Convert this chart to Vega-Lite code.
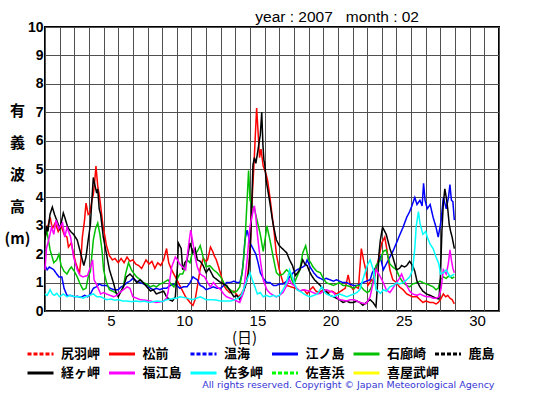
{
"$schema":"https://vega.github.io/schema/vega-lite/v6.json",
"width":454,"height":284,
"autosize":{"type":"none"},
"padding":{"left":45,"top":27,"right":56,"bottom":84},
"background":"white",
"title":{"text":"year : 2007\u00a0\u00a0\u00a0month : 02","anchor":"end","frame":"group","dx":-80,"dy":10,"offset":5,"fontSize":15.5,"fontWeight":"normal","font":"Liberation Sans","color":"black"},
"config":{
"view":{"stroke":"black","strokeWidth":2},
"axis":{"grid":true,"gridColor":"#505050","gridOpacity":1,"gridWidth":1,"domain":false,"ticks":false,"labelColor":"black","titleColor":"black"},
"legend":{"orient":"none","legendX":-12.5,"legendY":319,"direction":"horizontal","columns":6,"symbolType":"M-2,0H2","symbolSize":169,"symbolStrokeWidth":3,"symbolFillColor":"transparent","labelFont":"Noto Sans CJK JP","labelFontSize":13,"labelFontWeight":"bold","labelColor":"black","labelOffset":12.5,"labelLimit":0,"columnPadding":-10.5,"rowPadding":4,"gridAlign":"all","titleOrient":"bottom","titleAnchor":"end","titleColor":"#3535d5","titleFont":"DejaVu Sans","titleFontSize":9.5,"titleFontWeight":"normal","titlePadding":0,"titleLimit":0}
},
"data":{"values":[
{"s":"松前","t":0,"v":2.6},{"s":"松前","t":0.2,"v":3.0},{"s":"松前","t":0.35,"v":3.3},{"s":"松前","t":0.5,"v":2.9},{"s":"松前","t":0.7,"v":3.1},{"s":"松前","t":0.9,"v":2.8},{"s":"松前","t":1.1,"v":3.0},{"s":"松前","t":1.3,"v":2.7},{"s":"松前","t":1.5,"v":2.6},{"s":"松前","t":1.6,"v":2.25},{"s":"松前","t":1.8,"v":2.4},{"s":"松前","t":1.95,"v":2.0},{"s":"松前","t":2.1,"v":1.7},{"s":"松前","t":2.2,"v":1.55},{"s":"松前","t":2.35,"v":1.3},{"s":"松前","t":2.45,"v":1.8},{"s":"松前","t":2.55,"v":2.6},{"s":"松前","t":2.7,"v":3.2},{"s":"松前","t":2.8,"v":3.8},{"s":"松前","t":2.95,"v":3.4},{"s":"松前","t":3.07,"v":3.45},{"s":"松前","t":3.2,"v":3.9},{"s":"松前","t":3.3,"v":4.1},{"s":"松前","t":3.4,"v":4.6},{"s":"松前","t":3.48,"v":5.1},{"s":"松前","t":3.6,"v":4.4},{"s":"松前","t":3.7,"v":4.1},{"s":"松前","t":3.8,"v":3.7},{"s":"松前","t":3.96,"v":3.0},{"s":"松前","t":4.1,"v":2.6},{"s":"松前","t":4.2,"v":2.3},{"s":"松前","t":4.4,"v":1.95},{"s":"松前","t":4.6,"v":1.8},{"s":"松前","t":4.78,"v":1.85},{"s":"松前","t":5.0,"v":1.7},{"s":"松前","t":5.2,"v":1.85},{"s":"松前","t":5.4,"v":1.7},{"s":"松前","t":5.6,"v":1.9},{"s":"松前","t":5.8,"v":1.75},{"s":"松前","t":6.0,"v":1.8},{"s":"松前","t":6.2,"v":1.65},{"s":"松前","t":6.4,"v":1.6},{"s":"松前","t":6.6,"v":1.5},{"s":"松前","t":6.9,"v":1.8},{"s":"松前","t":7.1,"v":1.65},{"s":"松前","t":7.3,"v":1.75},{"s":"松前","t":7.5,"v":1.5},{"s":"松前","t":7.7,"v":1.7},{"s":"松前","t":7.9,"v":1.6},{"s":"松前","t":8.1,"v":1.8},{"s":"松前","t":8.3,"v":2.2},{"s":"松前","t":8.45,"v":1.7},{"s":"松前","t":8.6,"v":1.5},{"s":"松前","t":8.9,"v":1.2},{"s":"松前","t":9.2,"v":0.9},{"s":"松前","t":9.4,"v":0.7},{"s":"松前","t":9.6,"v":0.5},{"s":"松前","t":9.9,"v":0.3},{"s":"松前","t":10.1,"v":0.2},{"s":"松前","t":10.25,"v":0.4},{"s":"松前","t":10.4,"v":0.85},{"s":"松前","t":10.6,"v":1.5},{"s":"松前","t":10.8,"v":1.85},{"s":"松前","t":11.0,"v":1.75},{"s":"松前","t":11.1,"v":1.8},{"s":"松前","t":11.3,"v":2.25},{"s":"松前","t":11.45,"v":2.1},{"s":"松前","t":11.55,"v":1.95},{"s":"松前","t":11.7,"v":1.8},{"s":"松前","t":12.0,"v":1.3},{"s":"松前","t":12.2,"v":0.9},{"s":"松前","t":12.4,"v":0.75},{"s":"松前","t":12.6,"v":0.65},{"s":"松前","t":12.9,"v":0.7},{"s":"松前","t":13.2,"v":0.5},{"s":"松前","t":13.4,"v":0.6},{"s":"松前","t":13.6,"v":0.8},{"s":"松前","t":13.8,"v":1.1},{"s":"松前","t":14.0,"v":2.0},{"s":"松前","t":14.15,"v":4.0},{"s":"松前","t":14.3,"v":5.5},{"s":"松前","t":14.45,"v":7.15},{"s":"松前","t":14.55,"v":6.3},{"s":"松前","t":14.65,"v":5.4},{"s":"松前","t":14.75,"v":5.7},{"s":"松前","t":14.9,"v":5.1},{"s":"松前","t":15.05,"v":4.9},{"s":"松前","t":15.2,"v":4.6},{"s":"松前","t":15.36,"v":4.0},{"s":"松前","t":15.5,"v":3.4},{"s":"松前","t":15.6,"v":3.0},{"s":"松前","t":15.8,"v":2.0},{"s":"松前","t":16.0,"v":1.45},{"s":"松前","t":16.25,"v":1.0},{"s":"松前","t":16.5,"v":0.9},{"s":"松前","t":16.8,"v":0.85},{"s":"松前","t":17.1,"v":0.8},{"s":"松前","t":17.4,"v":0.7},{"s":"松前","t":17.7,"v":0.75},{"s":"松前","t":17.9,"v":0.6},{"s":"松前","t":18.1,"v":0.75},{"s":"松前","t":18.3,"v":0.85},{"s":"松前","t":18.5,"v":0.7},{"s":"松前","t":18.7,"v":0.65},{"s":"松前","t":19.0,"v":0.75},{"s":"松前","t":19.3,"v":0.65},{"s":"松前","t":19.6,"v":0.7},{"s":"松前","t":19.9,"v":0.6},{"s":"松前","t":20.2,"v":0.7},{"s":"松前","t":20.5,"v":0.8},{"s":"松前","t":20.7,"v":1.27},{"s":"松前","t":20.85,"v":0.9},{"s":"松前","t":21.05,"v":0.75},{"s":"松前","t":21.2,"v":0.85},{"s":"松前","t":21.4,"v":0.8},{"s":"松前","t":21.6,"v":2.2},{"s":"松前","t":21.75,"v":1.8},{"s":"松前","t":21.9,"v":1.45},{"s":"松前","t":22.05,"v":0.9},{"s":"松前","t":22.3,"v":1.1},{"s":"松前","t":22.45,"v":1.0},{"s":"松前","t":22.6,"v":1.45},{"s":"松前","t":22.8,"v":1.9},{"s":"松前","t":23.0,"v":2.4},{"s":"松前","t":23.2,"v":2.6},{"s":"松前","t":23.35,"v":2.15},{"s":"松前","t":23.55,"v":1.45},{"s":"松前","t":23.75,"v":1.1},{"s":"松前","t":24.0,"v":1.0},{"s":"松前","t":24.2,"v":0.85},{"s":"松前","t":24.45,"v":0.75},{"s":"松前","t":24.7,"v":0.6},{"s":"松前","t":24.9,"v":0.55},{"s":"松前","t":25.1,"v":0.5},{"s":"松前","t":25.4,"v":0.5},{"s":"松前","t":25.6,"v":0.4},{"s":"松前","t":25.8,"v":0.3},{"s":"松前","t":26.0,"v":0.35},{"s":"松前","t":26.3,"v":0.3},{"s":"松前","t":26.5,"v":0.3},{"s":"松前","t":26.7,"v":0.25},{"s":"松前","t":26.85,"v":0.3},{"s":"松前","t":27.0,"v":0.4},{"s":"松前","t":27.2,"v":0.6},{"s":"松前","t":27.35,"v":0.5},{"s":"松前","t":27.5,"v":0.55},{"s":"松前","t":27.65,"v":0.45},{"s":"松前","t":27.8,"v":0.4},{"s":"松前","t":27.95,"v":0.25},
{"s":"江ノ島","t":0,"v":1.6},{"s":"江ノ島","t":0.15,"v":1.45},{"s":"江ノ島","t":0.3,"v":1.55},{"s":"江ノ島","t":0.6,"v":1.45},{"s":"江ノ島","t":0.8,"v":1.3},{"s":"江ノ島","t":0.95,"v":1.2},{"s":"江ノ島","t":1.15,"v":1.2},{"s":"江ノ島","t":1.3,"v":0.8},{"s":"江ノ島","t":1.5,"v":0.55},{"s":"江ノ島","t":1.75,"v":0.55},{"s":"江ノ島","t":2.0,"v":0.5},{"s":"江ノ島","t":2.2,"v":0.52},{"s":"江ノ島","t":2.45,"v":0.48},{"s":"江ノ島","t":2.7,"v":0.55},{"s":"江ノ島","t":2.9,"v":0.5},{"s":"江ノ島","t":3.1,"v":0.6},{"s":"江ノ島","t":3.3,"v":0.8},{"s":"江ノ島","t":3.5,"v":0.85},{"s":"江ノ島","t":3.7,"v":0.95},{"s":"江ノ島","t":3.9,"v":0.9},{"s":"江ノ島","t":4.2,"v":0.9},{"s":"江ノ島","t":4.45,"v":0.8},{"s":"江ノ島","t":4.7,"v":0.75},{"s":"江ノ島","t":5.0,"v":0.75},{"s":"江ノ島","t":5.2,"v":0.85},{"s":"江ノ島","t":5.4,"v":0.9},{"s":"江ノ島","t":5.6,"v":1.0},{"s":"江ノ島","t":5.8,"v":1.05},{"s":"江ノ島","t":6.0,"v":1.15},{"s":"江ノ島","t":6.25,"v":1.05},{"s":"江ノ島","t":6.5,"v":1.0},{"s":"江ノ島","t":6.75,"v":0.95},{"s":"江ノ島","t":7.0,"v":0.9},{"s":"江ノ島","t":7.2,"v":0.8},{"s":"江ノ島","t":7.4,"v":0.75},{"s":"江ノ島","t":7.6,"v":0.8},{"s":"江ノ島","t":7.85,"v":0.75},{"s":"江ノ島","t":8.05,"v":0.8},{"s":"江ノ島","t":8.3,"v":0.8},{"s":"江ノ島","t":8.55,"v":0.9},{"s":"江ノ島","t":8.8,"v":0.95},{"s":"江ノ島","t":9.0,"v":0.9},{"s":"江ノ島","t":9.2,"v":0.8},{"s":"江ノ島","t":9.45,"v":0.85},{"s":"江ノ島","t":9.7,"v":0.85},{"s":"江ノ島","t":9.9,"v":1.0},{"s":"江ノ島","t":10.1,"v":1.2},{"s":"江ノ島","t":10.25,"v":1.15},{"s":"江ノ島","t":10.4,"v":1.1},{"s":"江ノ島","t":10.6,"v":0.9},{"s":"江ノ島","t":10.8,"v":0.85},{"s":"江ノ島","t":11.0,"v":0.75},{"s":"江ノ島","t":11.25,"v":0.8},{"s":"江ノ島","t":11.5,"v":0.85},{"s":"江ノ島","t":11.75,"v":0.8},{"s":"江ノ島","t":12.0,"v":0.8},{"s":"江ノ島","t":12.2,"v":0.9},{"s":"江ノ島","t":12.4,"v":1.0},{"s":"江ノ島","t":12.65,"v":1.0},{"s":"江ノ島","t":12.9,"v":1.05},{"s":"江ノ島","t":13.1,"v":1.0},{"s":"江ノ島","t":13.3,"v":1.0},{"s":"江ノ島","t":13.45,"v":1.3},{"s":"江ノ島","t":13.55,"v":1.8},{"s":"江ノ島","t":13.65,"v":2.5},{"s":"江ノ島","t":13.8,"v":2.85},{"s":"江ノ島","t":14.0,"v":2.4},{"s":"江ノ島","t":14.2,"v":2.2},{"s":"江ノ島","t":14.4,"v":2.0},{"s":"江ノ島","t":14.55,"v":1.7},{"s":"江ノ島","t":14.7,"v":1.35},{"s":"江ノ島","t":14.9,"v":1.15},{"s":"江ノ島","t":15.15,"v":1.0},{"s":"江ノ島","t":15.36,"v":1.0},{"s":"江ノ島","t":15.6,"v":0.9},{"s":"江ノ島","t":15.8,"v":0.9},{"s":"江ノ島","t":16.0,"v":0.95},{"s":"江ノ島","t":16.25,"v":0.95},{"s":"江ノ島","t":16.5,"v":1.05},{"s":"江ノ島","t":16.7,"v":1.2},{"s":"江ノ島","t":16.95,"v":1.35},{"s":"江ノ島","t":17.2,"v":1.45},{"s":"江ノ島","t":17.4,"v":1.5},{"s":"江ノ島","t":17.6,"v":1.55},{"s":"江ノ島","t":17.75,"v":1.6},{"s":"江ノ島","t":17.9,"v":1.8},{"s":"江ノ島","t":18.1,"v":1.55},{"s":"江ノ島","t":18.35,"v":1.35},{"s":"江ノ島","t":18.6,"v":1.2},{"s":"江ノ島","t":18.8,"v":1.15},{"s":"江ノ島","t":19.0,"v":1.1},{"s":"江ノ島","t":19.2,"v":1.15},{"s":"江ノ島","t":19.45,"v":1.1},{"s":"江ノ島","t":19.7,"v":1.05},{"s":"江ノ島","t":19.9,"v":1.1},{"s":"江ノ島","t":20.1,"v":1.05},{"s":"江ノ島","t":20.35,"v":1.0},{"s":"江ノ島","t":20.6,"v":1.0},{"s":"江ノ島","t":20.8,"v":0.95},{"s":"江ノ島","t":21.05,"v":0.9},{"s":"江ノ島","t":21.3,"v":0.9},{"s":"江ノ島","t":21.5,"v":0.95},{"s":"江ノ島","t":21.7,"v":1.0},{"s":"江ノ島","t":21.95,"v":1.05},{"s":"江ノ島","t":22.2,"v":1.1},{"s":"江ノ島","t":22.35,"v":1.35},{"s":"江ノ島","t":22.6,"v":1.55},{"s":"江ノ島","t":22.75,"v":1.7},{"s":"江ノ島","t":22.9,"v":1.9},{"s":"江ノ島","t":23.1,"v":1.45},{"s":"江ノ島","t":23.3,"v":1.65},{"s":"江ノ島","t":23.55,"v":1.9},{"s":"江ノ島","t":23.8,"v":2.15},{"s":"江ノ島","t":24.0,"v":2.4},{"s":"江ノ島","t":24.2,"v":2.65},{"s":"江ノ島","t":24.45,"v":2.95},{"s":"江ノ島","t":24.7,"v":3.3},{"s":"江ノ島","t":24.9,"v":3.5},{"s":"江ノ島","t":25.05,"v":3.7},{"s":"江ノ島","t":25.25,"v":4.0},{"s":"江ノ島","t":25.4,"v":3.75},{"s":"江ノ島","t":25.6,"v":3.9},{"s":"江ノ島","t":25.75,"v":3.7},{"s":"江ノ島","t":25.85,"v":4.5},{"s":"江ノ島","t":25.95,"v":3.9},{"s":"江ノ島","t":26.1,"v":3.6},{"s":"江ノ島","t":26.3,"v":3.75},{"s":"江ノ島","t":26.5,"v":3.3},{"s":"江ノ島","t":26.7,"v":2.95},{"s":"江ノ島","t":26.85,"v":2.6},{"s":"江ノ島","t":27.05,"v":3.2},{"s":"江ノ島","t":27.2,"v":4.0},{"s":"江ノ島","t":27.4,"v":3.6},{"s":"江ノ島","t":27.55,"v":4.0},{"s":"江ノ島","t":27.65,"v":4.45},{"s":"江ノ島","t":27.75,"v":3.9},{"s":"江ノ島","t":27.85,"v":3.85},{"s":"江ノ島","t":27.95,"v":3.2},
{"s":"石廊崎","t":0,"v":2.5},{"s":"石廊崎","t":0.1,"v":2.9},{"s":"石廊崎","t":0.35,"v":2.15},{"s":"石廊崎","t":0.6,"v":1.7},{"s":"石廊崎","t":0.8,"v":1.8},{"s":"石廊崎","t":0.95,"v":2.0},{"s":"石廊崎","t":1.1,"v":1.6},{"s":"石廊崎","t":1.3,"v":1.4},{"s":"石廊崎","t":1.5,"v":1.3},{"s":"石廊崎","t":1.65,"v":1.45},{"s":"石廊崎","t":1.8,"v":1.55},{"s":"石廊崎","t":2.0,"v":1.4},{"s":"石廊崎","t":2.2,"v":1.2},{"s":"石廊崎","t":2.4,"v":0.95},{"s":"石廊崎","t":2.6,"v":0.75},{"s":"石廊崎","t":2.8,"v":0.8},{"s":"石廊崎","t":2.95,"v":1.2},{"s":"石廊崎","t":3.1,"v":1.4},{"s":"石廊崎","t":3.3,"v":2.5},{"s":"石廊崎","t":3.45,"v":2.9},{"s":"石廊崎","t":3.6,"v":3.1},{"s":"石廊崎","t":3.75,"v":2.7},{"s":"石廊崎","t":3.9,"v":2.1},{"s":"石廊崎","t":4.0,"v":1.45},{"s":"石廊崎","t":4.2,"v":1.0},{"s":"石廊崎","t":4.4,"v":0.75},{"s":"石廊崎","t":4.8,"v":0.65},{"s":"石廊崎","t":5.0,"v":0.6},{"s":"石廊崎","t":5.2,"v":0.7},{"s":"石廊崎","t":5.35,"v":0.85},{"s":"石廊崎","t":5.5,"v":1.3},{"s":"石廊崎","t":5.7,"v":1.7},{"s":"石廊崎","t":5.9,"v":1.45},{"s":"石廊崎","t":6.1,"v":1.3},{"s":"石廊崎","t":6.26,"v":1.2},{"s":"石廊崎","t":6.5,"v":1.1},{"s":"石廊崎","t":6.7,"v":1.0},{"s":"石廊崎","t":6.95,"v":0.95},{"s":"石廊崎","t":7.2,"v":0.85},{"s":"石廊崎","t":7.4,"v":0.9},{"s":"石廊崎","t":7.6,"v":0.85},{"s":"石廊崎","t":7.85,"v":0.95},{"s":"石廊崎","t":8.1,"v":1.0},{"s":"石廊崎","t":8.4,"v":1.1},{"s":"石廊崎","t":8.6,"v":0.95},{"s":"石廊崎","t":8.8,"v":0.85},{"s":"石廊崎","t":9.0,"v":1.1},{"s":"石廊崎","t":9.2,"v":1.3},{"s":"石廊崎","t":9.4,"v":1.3},{"s":"石廊崎","t":9.55,"v":1.5},{"s":"石廊崎","t":9.7,"v":1.8},{"s":"石廊崎","t":9.9,"v":1.7},{"s":"石廊崎","t":10.1,"v":2.15},{"s":"石廊崎","t":10.25,"v":2.0},{"s":"石廊崎","t":10.4,"v":2.1},{"s":"石廊崎","t":10.6,"v":2.3},{"s":"石廊崎","t":10.8,"v":1.9},{"s":"石廊崎","t":11.0,"v":1.55},{"s":"石廊崎","t":11.25,"v":1.6},{"s":"石廊崎","t":11.5,"v":1.45},{"s":"石廊崎","t":11.75,"v":1.35},{"s":"石廊崎","t":12.0,"v":1.2},{"s":"石廊崎","t":12.2,"v":1.0},{"s":"石廊崎","t":12.4,"v":0.85},{"s":"石廊崎","t":12.65,"v":0.75},{"s":"石廊崎","t":12.9,"v":0.65},{"s":"石廊崎","t":13.1,"v":0.7},{"s":"石廊崎","t":13.3,"v":0.85},{"s":"石廊崎","t":13.5,"v":1.5},{"s":"石廊崎","t":13.65,"v":2.4},{"s":"石廊崎","t":13.8,"v":3.9},{"s":"石廊崎","t":13.9,"v":4.95},{"s":"石廊崎","t":14.0,"v":3.9},{"s":"石廊崎","t":14.15,"v":3.7},{"s":"石廊崎","t":14.3,"v":3.6},{"s":"石廊崎","t":14.5,"v":3.15},{"s":"石廊崎","t":14.7,"v":2.7},{"s":"石廊崎","t":14.9,"v":2.1},{"s":"石廊崎","t":15.05,"v":2.6},{"s":"石廊崎","t":15.15,"v":3.0},{"s":"石廊崎","t":15.36,"v":2.5},{"s":"石廊崎","t":15.6,"v":1.85},{"s":"石廊崎","t":15.8,"v":1.35},{"s":"石廊崎","t":16.0,"v":1.25},{"s":"石廊崎","t":16.25,"v":1.3},{"s":"石廊崎","t":16.5,"v":1.45},{"s":"石廊崎","t":16.7,"v":1.35},{"s":"石廊崎","t":16.85,"v":1.1},{"s":"石廊崎","t":17.0,"v":0.95},{"s":"石廊崎","t":17.2,"v":1.2},{"s":"石廊崎","t":17.4,"v":1.45},{"s":"石廊崎","t":17.6,"v":2.05},{"s":"石廊崎","t":17.8,"v":2.3},{"s":"石廊崎","t":18.0,"v":1.8},{"s":"石廊崎","t":18.15,"v":1.7},{"s":"石廊崎","t":18.3,"v":1.55},{"s":"石廊崎","t":18.55,"v":1.4},{"s":"石廊崎","t":18.8,"v":1.35},{"s":"石廊崎","t":19.0,"v":1.15},{"s":"石廊崎","t":19.2,"v":1.0},{"s":"石廊崎","t":19.45,"v":0.95},{"s":"石廊崎","t":19.7,"v":0.9},{"s":"石廊崎","t":19.9,"v":0.95},{"s":"石廊崎","t":20.1,"v":1.0},{"s":"石廊崎","t":20.35,"v":0.9},{"s":"石廊崎","t":20.6,"v":0.9},{"s":"石廊崎","t":20.85,"v":0.85},{"s":"石廊崎","t":21.1,"v":0.8},{"s":"石廊崎","t":21.3,"v":0.9},{"s":"石廊崎","t":21.5,"v":0.9},{"s":"石廊崎","t":21.75,"v":0.75},{"s":"石廊崎","t":22.0,"v":0.65},{"s":"石廊崎","t":22.15,"v":0.7},{"s":"石廊崎","t":22.3,"v":0.85},{"s":"石廊崎","t":22.45,"v":1.2},{"s":"石廊崎","t":22.6,"v":1.6},{"s":"石廊崎","t":22.75,"v":1.7},{"s":"石廊崎","t":22.9,"v":1.8},{"s":"石廊崎","t":23.1,"v":2.1},{"s":"石廊崎","t":23.3,"v":2.15},{"s":"石廊崎","t":23.55,"v":1.65},{"s":"石廊崎","t":23.75,"v":1.55},{"s":"石廊崎","t":24.0,"v":1.45},{"s":"石廊崎","t":24.2,"v":1.2},{"s":"石廊崎","t":24.45,"v":1.0},{"s":"石廊崎","t":24.7,"v":0.9},{"s":"石廊崎","t":24.9,"v":0.85},{"s":"石廊崎","t":25.1,"v":0.95},{"s":"石廊崎","t":25.4,"v":1.0},{"s":"石廊崎","t":25.6,"v":1.05},{"s":"石廊崎","t":25.8,"v":1.0},{"s":"石廊崎","t":26.05,"v":0.95},{"s":"石廊崎","t":26.3,"v":0.9},{"s":"石廊崎","t":26.5,"v":0.85},{"s":"石廊崎","t":26.7,"v":0.75},{"s":"石廊崎","t":26.85,"v":0.8},{"s":"石廊崎","t":27.0,"v":1.1},{"s":"石廊崎","t":27.2,"v":1.2},{"s":"石廊崎","t":27.4,"v":1.15},{"s":"石廊崎","t":27.6,"v":1.25},{"s":"石廊崎","t":27.8,"v":1.15},{"s":"石廊崎","t":27.95,"v":1.2},
{"s":"経ヶ岬","t":0,"v":2.5},{"s":"経ヶ岬","t":0.1,"v":3.0},{"s":"経ヶ岬","t":0.2,"v":2.8},{"s":"経ヶ岬","t":0.34,"v":3.4},{"s":"経ヶ岬","t":0.5,"v":3.66},{"s":"経ヶ岬","t":0.65,"v":3.4},{"s":"経ヶ岬","t":0.8,"v":3.2},{"s":"経ヶ岬","t":1.0,"v":2.9},{"s":"経ヶ岬","t":1.1,"v":3.1},{"s":"経ヶ岬","t":1.25,"v":3.45},{"s":"経ヶ岬","t":1.35,"v":3.3},{"s":"経ヶ岬","t":1.55,"v":2.95},{"s":"経ヶ岬","t":1.75,"v":2.8},{"s":"経ヶ岬","t":1.95,"v":2.7},{"s":"経ヶ岬","t":2.2,"v":2.5},{"s":"経ヶ岬","t":2.45,"v":2.0},{"s":"経ヶ岬","t":2.65,"v":1.6},{"s":"経ヶ岬","t":2.8,"v":1.9},{"s":"経ヶ岬","t":2.95,"v":2.5},{"s":"経ヶ岬","t":3.1,"v":3.05},{"s":"経ヶ岬","t":3.2,"v":3.9},{"s":"経ヶ岬","t":3.3,"v":4.7},{"s":"経ヶ岬","t":3.42,"v":4.4},{"s":"経ヶ岬","t":3.53,"v":4.15},{"s":"経ヶ岬","t":3.6,"v":4.3},{"s":"経ヶ岬","t":3.7,"v":3.6},{"s":"経ヶ岬","t":3.8,"v":3.4},{"s":"経ヶ岬","t":3.98,"v":2.6},{"s":"経ヶ岬","t":4.2,"v":2.0},{"s":"経ヶ岬","t":4.4,"v":1.45},{"s":"経ヶ岬","t":4.67,"v":1.0},{"s":"経ヶ岬","t":4.85,"v":0.65},{"s":"経ヶ岬","t":5.0,"v":0.5},{"s":"経ヶ岬","t":5.2,"v":0.7},{"s":"経ヶ岬","t":5.35,"v":0.85},{"s":"経ヶ岬","t":5.57,"v":1.2},{"s":"経ヶ岬","t":5.8,"v":1.3},{"s":"経ヶ岬","t":6.0,"v":1.2},{"s":"経ヶ岬","t":6.26,"v":1.0},{"s":"経ヶ岬","t":6.5,"v":1.1},{"s":"経ヶ岬","t":6.7,"v":1.0},{"s":"経ヶ岬","t":6.95,"v":0.85},{"s":"経ヶ岬","t":7.2,"v":0.7},{"s":"経ヶ岬","t":7.4,"v":0.75},{"s":"経ヶ岬","t":7.6,"v":0.6},{"s":"経ヶ岬","t":7.85,"v":0.65},{"s":"経ヶ岬","t":8.1,"v":0.7},{"s":"経ヶ岬","t":8.3,"v":0.5},{"s":"経ヶ岬","t":8.5,"v":0.4},{"s":"経ヶ岬","t":8.7,"v":0.35},{"s":"経ヶ岬","t":8.9,"v":0.5},{"s":"経ヶ岬","t":9.05,"v":1.6},{"s":"経ヶ岬","t":9.1,"v":2.4},{"s":"経ヶ岬","t":9.3,"v":2.2},{"s":"経ヶ岬","t":9.4,"v":1.45},{"s":"経ヶ岬","t":9.55,"v":1.7},{"s":"経ヶ岬","t":9.7,"v":1.8},{"s":"経ヶ岬","t":9.9,"v":2.4},{"s":"経ヶ岬","t":10.1,"v":2.05},{"s":"経ヶ岬","t":10.25,"v":2.2},{"s":"経ヶ岬","t":10.4,"v":1.8},{"s":"経ヶ岬","t":10.6,"v":1.75},{"s":"経ヶ岬","t":10.8,"v":1.6},{"s":"経ヶ岬","t":11.0,"v":1.35},{"s":"経ヶ岬","t":11.2,"v":1.5},{"s":"経ヶ岬","t":11.5,"v":1.2},{"s":"経ヶ岬","t":11.75,"v":1.1},{"s":"経ヶ岬","t":12.0,"v":1.0},{"s":"経ヶ岬","t":12.2,"v":0.95},{"s":"経ヶ岬","t":12.4,"v":0.9},{"s":"経ヶ岬","t":12.65,"v":0.7},{"s":"経ヶ岬","t":12.9,"v":0.5},{"s":"経ヶ岬","t":13.1,"v":0.55},{"s":"経ヶ岬","t":13.3,"v":0.4},{"s":"経ヶ岬","t":13.5,"v":0.6},{"s":"経ヶ岬","t":13.7,"v":0.9},{"s":"経ヶ岬","t":13.9,"v":1.35},{"s":"経ヶ岬","t":14.05,"v":2.6},{"s":"経ヶ岬","t":14.2,"v":5.15},{"s":"経ヶ岬","t":14.3,"v":5.4},{"s":"経ヶ岬","t":14.4,"v":5.2},{"s":"経ヶ岬","t":14.55,"v":5.7},{"s":"経ヶ岬","t":14.7,"v":6.2},{"s":"経ヶ岬","t":14.8,"v":7.0},{"s":"経ヶ岬","t":14.88,"v":5.85},{"s":"経ヶ岬","t":14.95,"v":5.3},{"s":"経ヶ岬","t":15.0,"v":5.2},{"s":"経ヶ岬","t":15.1,"v":4.6},{"s":"経ヶ岬","t":15.36,"v":3.8},{"s":"経ヶ岬","t":15.5,"v":3.3},{"s":"経ヶ岬","t":15.6,"v":3.0},{"s":"経ヶ岬","t":15.8,"v":2.5},{"s":"経ヶ岬","t":16.0,"v":2.3},{"s":"経ヶ岬","t":16.2,"v":2.2},{"s":"経ヶ岬","t":16.5,"v":2.05},{"s":"経ヶ岬","t":16.7,"v":1.8},{"s":"経ヶ岬","t":16.9,"v":1.6},{"s":"経ヶ岬","t":17.1,"v":1.25},{"s":"経ヶ岬","t":17.25,"v":1.35},{"s":"経ヶ岬","t":17.4,"v":1.45},{"s":"経ヶ岬","t":17.6,"v":1.8},{"s":"経ヶ岬","t":17.75,"v":1.65},{"s":"経ヶ岬","t":17.9,"v":1.6},{"s":"経ヶ岬","t":18.05,"v":1.4},{"s":"経ヶ岬","t":18.2,"v":1.25},{"s":"経ヶ岬","t":18.4,"v":1.1},{"s":"経ヶ岬","t":18.6,"v":1.0},{"s":"経ヶ岬","t":18.8,"v":0.9},{"s":"経ヶ岬","t":19.0,"v":0.75},{"s":"経ヶ岬","t":19.2,"v":0.7},{"s":"経ヶ岬","t":19.45,"v":0.55},{"s":"経ヶ岬","t":19.7,"v":0.5},{"s":"経ヶ岬","t":19.9,"v":0.45},{"s":"経ヶ岬","t":20.1,"v":0.4},{"s":"経ヶ岬","t":20.35,"v":0.3},{"s":"経ヶ岬","t":20.6,"v":0.35},{"s":"経ヶ岬","t":20.8,"v":0.3},{"s":"経ヶ岬","t":21.05,"v":0.3},{"s":"経ヶ岬","t":21.3,"v":0.35},{"s":"経ヶ岬","t":21.5,"v":0.3},{"s":"経ヶ岬","t":21.7,"v":0.2},{"s":"経ヶ岬","t":21.95,"v":0.3},{"s":"経ヶ岬","t":22.2,"v":0.4},{"s":"経ヶ岬","t":22.4,"v":0.3},{"s":"経ヶ岬","t":22.6,"v":0.15},{"s":"経ヶ岬","t":22.7,"v":0.9},{"s":"経ヶ岬","t":22.8,"v":2.0},{"s":"経ヶ岬","t":22.9,"v":2.5},{"s":"経ヶ岬","t":23.05,"v":2.95},{"s":"経ヶ岬","t":23.3,"v":2.7},{"s":"経ヶ岬","t":23.55,"v":2.2},{"s":"経ヶ岬","t":23.75,"v":1.9},{"s":"経ヶ岬","t":24.0,"v":1.45},{"s":"経ヶ岬","t":24.2,"v":1.5},{"s":"経ヶ岬","t":24.35,"v":1.6},{"s":"経ヶ岬","t":24.55,"v":1.55},{"s":"経ヶ岬","t":24.7,"v":1.6},{"s":"経ヶ岬","t":24.9,"v":1.75},{"s":"経ヶ岬","t":25.1,"v":1.6},{"s":"経ヶ岬","t":25.25,"v":1.4},{"s":"経ヶ岬","t":25.4,"v":1.05},{"s":"経ヶ岬","t":25.6,"v":0.85},{"s":"経ヶ岬","t":25.8,"v":0.7},{"s":"経ヶ岬","t":26.05,"v":0.6},{"s":"経ヶ岬","t":26.3,"v":0.55},{"s":"経ヶ岬","t":26.5,"v":0.5},{"s":"経ヶ岬","t":26.7,"v":0.45},{"s":"経ヶ岬","t":26.9,"v":0.42},{"s":"経ヶ岬","t":27.0,"v":1.2},{"s":"経ヶ岬","t":27.1,"v":2.8},{"s":"経ヶ岬","t":27.2,"v":3.8},{"s":"経ヶ岬","t":27.3,"v":4.3},{"s":"経ヶ岬","t":27.4,"v":4.0},{"s":"経ヶ岬","t":27.5,"v":3.6},{"s":"経ヶ岬","t":27.6,"v":3.05},{"s":"経ヶ岬","t":27.7,"v":2.8},{"s":"経ヶ岬","t":27.8,"v":2.6},{"s":"経ヶ岬","t":27.95,"v":2.2},
{"s":"福江島","t":0,"v":1.45},{"s":"福江島","t":0.1,"v":2.2},{"s":"福江島","t":0.25,"v":2.5},{"s":"福江島","t":0.45,"v":2.95},{"s":"福江島","t":0.6,"v":2.7},{"s":"福江島","t":0.75,"v":3.2},{"s":"福江島","t":0.95,"v":2.9},{"s":"福江島","t":1.2,"v":3.1},{"s":"福江島","t":1.35,"v":2.6},{"s":"福江島","t":1.5,"v":2.95},{"s":"福江島","t":1.75,"v":2.6},{"s":"福江島","t":1.95,"v":1.9},{"s":"福江島","t":2.2,"v":1.45},{"s":"福江島","t":2.4,"v":1.25},{"s":"福江島","t":2.6,"v":1.2},{"s":"福江島","t":2.9,"v":1.25},{"s":"福江島","t":3.1,"v":1.55},{"s":"福江島","t":3.25,"v":1.8},{"s":"福江島","t":3.35,"v":1.1},{"s":"福江島","t":3.55,"v":0.9},{"s":"福江島","t":3.8,"v":0.6},{"s":"福江島","t":4.0,"v":0.65},{"s":"福江島","t":4.2,"v":0.6},{"s":"福江島","t":4.45,"v":0.55},{"s":"福江島","t":4.7,"v":0.5},{"s":"福江島","t":4.9,"v":0.55},{"s":"福江島","t":5.1,"v":0.65},{"s":"福江島","t":5.35,"v":0.75},{"s":"福江島","t":5.6,"v":0.85},{"s":"福江島","t":5.8,"v":0.8},{"s":"福江島","t":6.0,"v":0.5},{"s":"福江島","t":6.25,"v":0.45},{"s":"福江島","t":6.5,"v":0.4},{"s":"福江島","t":6.85,"v":0.38},{"s":"福江島","t":7.2,"v":0.35},{"s":"福江島","t":7.6,"v":0.3},{"s":"福江島","t":7.85,"v":0.32},{"s":"福江島","t":8.1,"v":0.35},{"s":"福江島","t":8.3,"v":0.45},{"s":"福江島","t":8.4,"v":0.65},{"s":"福江島","t":8.55,"v":1.2},{"s":"福江島","t":8.65,"v":1.55},{"s":"福江島","t":8.9,"v":1.9},{"s":"福江島","t":9.05,"v":1.8},{"s":"福江島","t":9.2,"v":1.65},{"s":"福江島","t":9.4,"v":1.55},{"s":"福江島","t":9.6,"v":1.45},{"s":"福江島","t":9.8,"v":2.3},{"s":"福江島","t":9.95,"v":2.85},{"s":"福江島","t":10.1,"v":2.4},{"s":"福江島","t":10.25,"v":1.9},{"s":"福江島","t":10.4,"v":1.55},{"s":"福江島","t":10.6,"v":1.3},{"s":"福江島","t":10.9,"v":1.2},{"s":"福江島","t":11.1,"v":1.0},{"s":"福江島","t":11.3,"v":0.85},{"s":"福江島","t":11.5,"v":1.0},{"s":"福江島","t":11.75,"v":0.85},{"s":"福江島","t":12.0,"v":0.75},{"s":"福江島","t":12.2,"v":0.6},{"s":"福江島","t":12.4,"v":0.5},{"s":"福江島","t":12.65,"v":0.45},{"s":"福江島","t":12.9,"v":0.4},{"s":"福江島","t":13.1,"v":0.35},{"s":"福江島","t":13.3,"v":0.3},{"s":"福江島","t":13.55,"v":0.65},{"s":"福江島","t":13.8,"v":1.8},{"s":"福江島","t":14.0,"v":3.0},{"s":"福江島","t":14.2,"v":3.5},{"s":"福江島","t":14.3,"v":3.7},{"s":"福江島","t":14.4,"v":3.3},{"s":"福江島","t":14.5,"v":2.7},{"s":"福江島","t":14.7,"v":1.8},{"s":"福江島","t":14.9,"v":1.1},{"s":"福江島","t":15.15,"v":0.75},{"s":"福江島","t":15.36,"v":0.63},{"s":"福江島","t":15.6,"v":0.55},{"s":"福江島","t":15.8,"v":0.5},{"s":"福江島","t":16.0,"v":0.55},{"s":"福江島","t":16.25,"v":0.65},{"s":"福江島","t":16.45,"v":0.85},{"s":"福江島","t":16.7,"v":1.1},{"s":"福江島","t":16.85,"v":0.95},{"s":"福江島","t":17.0,"v":0.9},{"s":"福江島","t":17.2,"v":0.8},{"s":"福江島","t":17.4,"v":0.7},{"s":"福江島","t":17.65,"v":0.75},{"s":"福江島","t":17.9,"v":0.72},{"s":"福江島","t":18.1,"v":0.7},{"s":"福江島","t":18.3,"v":0.65},{"s":"福江島","t":18.55,"v":0.6},{"s":"福江島","t":18.8,"v":0.62},{"s":"福江島","t":19.0,"v":0.7},{"s":"福江島","t":19.2,"v":0.75},{"s":"福江島","t":19.45,"v":0.7},{"s":"福江島","t":19.7,"v":0.65},{"s":"福江島","t":19.9,"v":0.5},{"s":"福江島","t":20.1,"v":0.4},{"s":"福江島","t":20.35,"v":0.38},{"s":"福江島","t":20.6,"v":0.35},{"s":"福江島","t":20.85,"v":0.4},{"s":"福江島","t":21.1,"v":0.4},{"s":"福江島","t":21.3,"v":0.35},{"s":"福江島","t":21.5,"v":0.3},{"s":"福江島","t":21.7,"v":0.28},{"s":"福江島","t":21.9,"v":0.25},{"s":"福江島","t":22.05,"v":0.35},{"s":"福江島","t":22.2,"v":0.5},{"s":"福江島","t":22.45,"v":1.1},{"s":"福江島","t":22.6,"v":1.45},{"s":"福江島","t":22.75,"v":1.35},{"s":"福江島","t":22.9,"v":1.2},{"s":"福江島","t":23.1,"v":1.0},{"s":"福江島","t":23.3,"v":0.75},{"s":"福江島","t":23.55,"v":0.65},{"s":"福江島","t":23.75,"v":0.8},{"s":"福江島","t":24.0,"v":1.0},{"s":"福江島","t":24.2,"v":1.15},{"s":"福江島","t":24.35,"v":1.3},{"s":"福江島","t":24.5,"v":1.1},{"s":"福江島","t":24.7,"v":0.9},{"s":"福江島","t":24.9,"v":0.7},{"s":"福江島","t":25.1,"v":0.6},{"s":"福江島","t":25.4,"v":0.55},{"s":"福江島","t":25.6,"v":0.6},{"s":"福江島","t":25.8,"v":0.55},{"s":"福江島","t":26.05,"v":0.5},{"s":"福江島","t":26.3,"v":0.5},{"s":"福江島","t":26.5,"v":0.45},{"s":"福江島","t":26.7,"v":0.45},{"s":"福江島","t":26.9,"v":0.5},{"s":"福江島","t":27.05,"v":0.8},{"s":"福江島","t":27.2,"v":1.45},{"s":"福江島","t":27.4,"v":1.3},{"s":"福江島","t":27.55,"v":1.7},{"s":"福江島","t":27.65,"v":2.15},{"s":"福江島","t":27.75,"v":1.8},{"s":"福江島","t":27.85,"v":1.5},{"s":"福江島","t":27.95,"v":1.35},
{"s":"佐多岬","t":0,"v":0.6},{"s":"佐多岬","t":0.15,"v":0.55},{"s":"佐多岬","t":0.35,"v":0.75},{"s":"佐多岬","t":0.5,"v":0.6},{"s":"佐多岬","t":0.65,"v":0.55},{"s":"佐多岬","t":0.8,"v":0.62},{"s":"佐多岬","t":1.0,"v":0.5},{"s":"佐多岬","t":1.25,"v":0.6},{"s":"佐多岬","t":1.5,"v":0.5},{"s":"佐多岬","t":1.7,"v":0.55},{"s":"佐多岬","t":1.9,"v":0.52},{"s":"佐多岬","t":2.15,"v":0.5},{"s":"佐多岬","t":2.4,"v":0.5},{"s":"佐多岬","t":2.6,"v":0.45},{"s":"佐多岬","t":2.8,"v":0.5},{"s":"佐多岬","t":3.05,"v":0.55},{"s":"佐多岬","t":3.3,"v":0.6},{"s":"佐多岬","t":3.55,"v":0.5},{"s":"佐多岬","t":3.8,"v":0.5},{"s":"佐多岬","t":4.0,"v":0.45},{"s":"佐多岬","t":4.2,"v":0.4},{"s":"佐多岬","t":4.5,"v":0.42},{"s":"佐多岬","t":4.75,"v":0.38},{"s":"佐多岬","t":5.0,"v":0.4},{"s":"佐多岬","t":5.3,"v":0.35},{"s":"佐多岬","t":5.6,"v":0.35},{"s":"佐多岬","t":5.9,"v":0.33},{"s":"佐多岬","t":6.2,"v":0.35},{"s":"佐多岬","t":6.5,"v":0.33},{"s":"佐多岬","t":6.8,"v":0.35},{"s":"佐多岬","t":7.1,"v":0.3},{"s":"佐多岬","t":7.4,"v":0.33},{"s":"佐多岬","t":7.7,"v":0.35},{"s":"佐多岬","t":8.0,"v":0.33},{"s":"佐多岬","t":8.3,"v":0.4},{"s":"佐多岬","t":8.55,"v":0.42},{"s":"佐多岬","t":8.8,"v":0.45},{"s":"佐多岬","t":9.0,"v":0.45},{"s":"佐多岬","t":9.2,"v":0.5},{"s":"佐多岬","t":9.45,"v":0.48},{"s":"佐多岬","t":9.7,"v":0.45},{"s":"佐多岬","t":9.9,"v":0.42},{"s":"佐多岬","t":10.1,"v":0.4},{"s":"佐多岬","t":10.35,"v":0.45},{"s":"佐多岬","t":10.6,"v":0.5},{"s":"佐多岬","t":10.8,"v":0.45},{"s":"佐多岬","t":11.0,"v":0.4},{"s":"佐多岬","t":11.25,"v":0.4},{"s":"佐多岬","t":11.5,"v":0.4},{"s":"佐多岬","t":11.75,"v":0.38},{"s":"佐多岬","t":12.0,"v":0.35},{"s":"佐多岬","t":12.3,"v":0.35},{"s":"佐多岬","t":12.7,"v":0.35},{"s":"佐多岬","t":12.95,"v":0.4},{"s":"佐多岬","t":13.2,"v":0.45},{"s":"佐多岬","t":13.4,"v":0.55},{"s":"佐多岬","t":13.55,"v":0.75},{"s":"佐多岬","t":13.8,"v":1.1},{"s":"佐多岬","t":14.0,"v":1.35},{"s":"佐多岬","t":14.15,"v":1.1},{"s":"佐多岬","t":14.3,"v":0.9},{"s":"佐多岬","t":14.5,"v":0.6},{"s":"佐多岬","t":14.7,"v":0.65},{"s":"佐多岬","t":14.9,"v":0.5},{"s":"佐多岬","t":15.1,"v":0.55},{"s":"佐多岬","t":15.36,"v":0.5},{"s":"佐多岬","t":15.6,"v":0.55},{"s":"佐多岬","t":15.8,"v":0.5},{"s":"佐多岬","t":16.0,"v":0.55},{"s":"佐多岬","t":16.25,"v":0.75},{"s":"佐多岬","t":16.5,"v":1.0},{"s":"佐多岬","t":16.7,"v":1.45},{"s":"佐多岬","t":16.9,"v":1.2},{"s":"佐多岬","t":17.05,"v":0.95},{"s":"佐多岬","t":17.2,"v":0.75},{"s":"佐多岬","t":17.4,"v":0.7},{"s":"佐多岬","t":17.6,"v":0.63},{"s":"佐多岬","t":17.85,"v":0.55},{"s":"佐多岬","t":18.1,"v":0.5},{"s":"佐多岬","t":18.35,"v":0.55},{"s":"佐多岬","t":18.6,"v":0.6},{"s":"佐多岬","t":18.9,"v":0.85},{"s":"佐多岬","t":19.05,"v":0.7},{"s":"佐多岬","t":19.2,"v":0.6},{"s":"佐多岬","t":19.45,"v":0.55},{"s":"佐多岬","t":19.7,"v":0.5},{"s":"佐多岬","t":19.9,"v":0.55},{"s":"佐多岬","t":20.1,"v":0.6},{"s":"佐多岬","t":20.35,"v":0.55},{"s":"佐多岬","t":20.6,"v":0.5},{"s":"佐多岬","t":20.85,"v":0.55},{"s":"佐多岬","t":21.1,"v":0.6},{"s":"佐多岬","t":21.3,"v":0.65},{"s":"佐多岬","t":21.5,"v":0.75},{"s":"佐多岬","t":21.7,"v":1.1},{"s":"佐多岬","t":21.85,"v":1.35},{"s":"佐多岬","t":22.0,"v":1.6},{"s":"佐多岬","t":22.2,"v":1.8},{"s":"佐多岬","t":22.45,"v":1.4},{"s":"佐多岬","t":22.6,"v":0.75},{"s":"佐多岬","t":22.75,"v":0.7},{"s":"佐多岬","t":22.9,"v":0.62},{"s":"佐多岬","t":23.1,"v":0.75},{"s":"佐多岬","t":23.3,"v":0.7},{"s":"佐多岬","t":23.55,"v":0.85},{"s":"佐多岬","t":23.8,"v":0.9},{"s":"佐多岬","t":24.0,"v":1.0},{"s":"佐多岬","t":24.2,"v":0.95},{"s":"佐多岬","t":24.45,"v":1.0},{"s":"佐多岬","t":24.7,"v":1.1},{"s":"佐多岬","t":24.9,"v":1.2},{"s":"佐多岬","t":25.1,"v":1.45},{"s":"佐多岬","t":25.25,"v":2.2},{"s":"佐多岬","t":25.35,"v":3.0},{"s":"佐多岬","t":25.5,"v":3.5},{"s":"佐多岬","t":25.6,"v":3.1},{"s":"佐多岬","t":25.8,"v":2.7},{"s":"佐多岬","t":26.0,"v":2.8},{"s":"佐多岬","t":26.1,"v":2.6},{"s":"佐多岬","t":26.3,"v":2.35},{"s":"佐多岬","t":26.5,"v":2.2},{"s":"佐多岬","t":26.7,"v":1.9},{"s":"佐多岬","t":26.9,"v":1.65},{"s":"佐多岬","t":27.0,"v":1.3},{"s":"佐多岬","t":27.2,"v":1.35},{"s":"佐多岬","t":27.4,"v":1.45},{"s":"佐多岬","t":27.55,"v":1.3},{"s":"佐多岬","t":27.65,"v":1.2},{"s":"佐多岬","t":27.8,"v":1.25},{"s":"佐多岬","t":27.95,"v":1.3}
]},
"mark":{"type":"line","strokeWidth":1.5},
"encoding":{
"x":{"field":"t","type":"quantitative","scale":{"domain":[0,31],"nice":false,"zero":false},
 "axis":{"values":[0,1,2,3,4,5,6,7,8,9,10,11,12,13,14,15,16,17,18,19,20,21,22,23,24,25,26,27,28,29,30,31],"labelExpr":"datum.value % 5 == 0 && datum.value > 0 ? datum.label : ''","labelOffset":-7.3,"labelFont":"Liberation Sans","labelFontSize":15,"labelPadding":2,"labelFlush":false,"labelOverlap":false,
 "title":"(日)","titleFont":"Noto Sans CJK JP","titleFontSize":15,"titleFontWeight":"normal","titleX":199,"titlePadding":2}},
"y":{"field":"v","type":"quantitative","scale":{"domain":[0,10],"nice":false},
 "axis":{"values":[0,1,2,3,4,5,6,7,8,9,10],"labelFont":"Liberation Sans","labelFontSize":14,"labelFontWeight":"bold","labelPadding":2,"labelFlush":false,
 "title":["有","義","波","高","(m)"],"titleAngle":0,"titleAlign":"center","titleBaseline":"middle","titleFont":"Noto Sans CJK JP","titleFontSize":15,"titleFontWeight":"bold","titleLineHeight":32,"titleX":-28,"titleY":83}},
"color":{"field":"s","type":"nominal","title":"All rights reserved. Copyright © Japan Meteorological Agency",
 "scale":{"domain":["尻羽岬","松前","温海","江ノ島","石廊崎","鹿島","経ヶ岬","福江島","佐多岬","佐喜浜","喜屋武岬"],"range":["#ff0000","#ff0000","#0000ff","#0000ff","#00c000","#000000","#000000","#ff00ff","#00ffff","#00ff00","#ffff00"]}},
"strokeDash":{"field":"s","type":"nominal","title":"All rights reserved. Copyright © Japan Meteorological Agency",
 "scale":{"domain":["尻羽岬","松前","温海","江ノ島","石廊崎","鹿島","経ヶ岬","福江島","佐多岬","佐喜浜","喜屋武岬"],"range":[[4,2],[1,0],[4,2],[1,0],[1,0],[4,2],[1,0],[1,0],[1,0],[4,2],[1,0]]}}
}
}
